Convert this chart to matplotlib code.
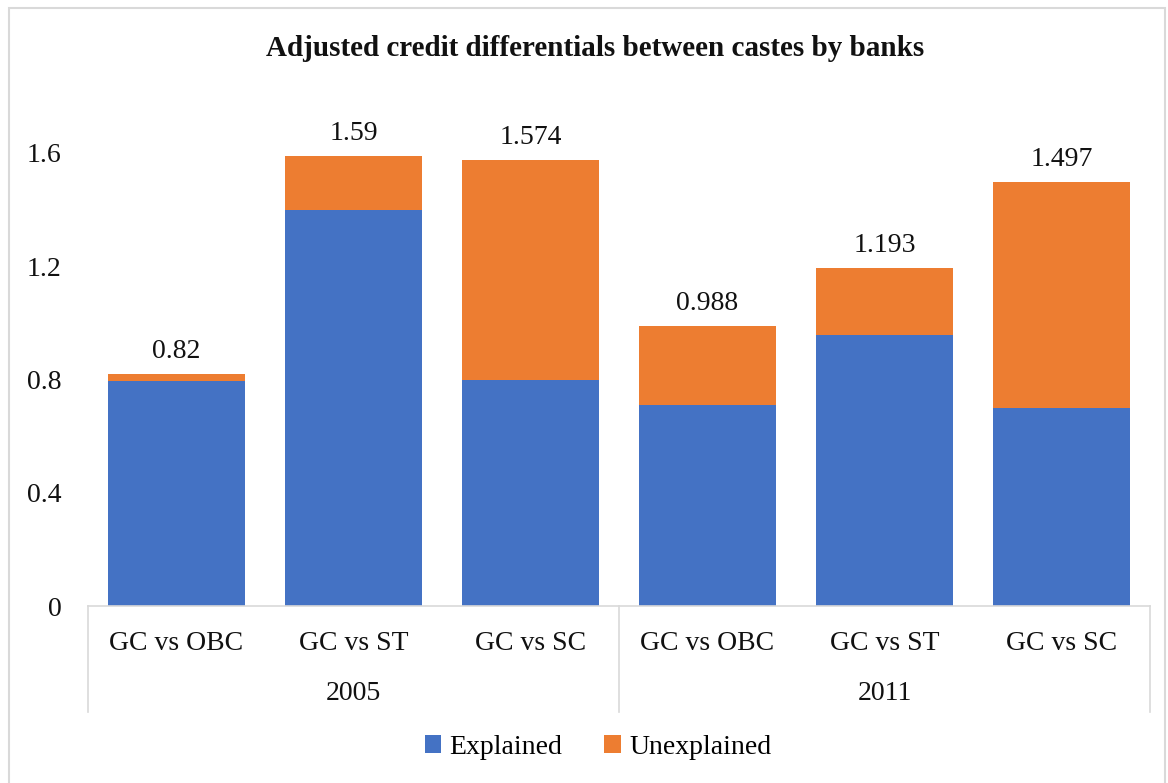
import matplotlib
matplotlib.use("Agg")
import matplotlib.pyplot as plt
from matplotlib.patches import Rectangle
from matplotlib.lines import Line2D

categories = ["GC vs OBC", "GC vs ST", "GC vs SC", "GC vs OBC", "GC vs ST", "GC vs SC"]
years = ["2005", "2011"]
totals = [0.82, 1.59, 1.574, 0.988, 1.193, 1.497]
explained = [0.795, 1.40, 0.80, 0.71, 0.957, 0.70]
unexplained = [t - e for t, e in zip(totals, explained)]
total_labels = ["0.82", "1.59", "1.574", "0.988", "1.193", "1.497"]
yticks = [0, 0.4, 0.8, 1.2, 1.6]
ytick_labels = ["0", "0.4", "0.8", "1.2", "1.6"]

blue = "#4472C4"
orange = "#ED7D31"
gray = "#D9D9D9"
txt = "#111111"
fs = 20

plt.rcParams["font.family"] = ["Liberation Serif", "DejaVu Serif"]

W, H = 1168, 783
fig = plt.figure(figsize=(W / 100, H / 100), dpi=100)
x0, x1 = 88, 1150
yb, yt = 606, 153
ax = fig.add_axes([x0 / W, 1 - yb / H, (x1 - x0) / W, (yb - yt) / H])

x = list(range(len(categories)))
ax.bar(x, explained, width=0.77, color=blue, label="Explained", zorder=2)
ax.bar(x, unexplained, width=0.77, bottom=explained, color=orange, label="Unexplained", zorder=2)
for xi, t, lab in zip(x, totals, total_labels):
    ax.text(xi, t + 0.035, lab, ha="center", va="bottom", fontsize=fs, color=txt)

ax.set_xlim(-0.5, len(categories) - 0.5)
ax.set_ylim(0, 1.6)
ax.set_yticks(yticks)
ax.set_yticklabels(ytick_labels, fontsize=fs, color=txt)
ax.tick_params(axis="y", length=0, pad=19)
ax.set_xticks([])
for s in ["top", "right", "left"]:
    ax.spines[s].set_visible(False)
ax.spines["bottom"].set_color(gray)
ax.spines["bottom"].set_linewidth(1.2)

def fx(px):
    return px / W

def fy(py):
    return 1 - py / H

catw = (x1 - x0) / len(categories)
for i, c in enumerate(categories):
    fig.text(fx(x0 + catw * (i + 0.5)), fy(644), c, ha="center", va="center", fontsize=fs, color=txt)
for g, yr in enumerate(years):
    fig.text(fx(x0 + catw * (3 * g + 1.5)), fy(694), yr, ha="center", va="center", fontsize=fs, color=txt)
for px in [x0, x0 + catw * 3, x1]:
    fig.add_artist(Line2D([fx(px), fx(px)], [fy(606), fy(712)], color=gray, lw=1.2))

fig.text(fx(595), fy(49), "Adjusted credit differentials between castes by banks",
         ha="center", va="center", fontsize=21, fontweight="bold", color=txt)

leg = fig.legend(loc="center", bbox_to_anchor=(fx(598), fy(747)), ncol=2, frameon=False,
                 fontsize=fs, handlelength=0.6, handleheight=0.6, handletextpad=0.3,
                 columnspacing=1.5)

fig.add_artist(Rectangle((fx(9), fy(790)), fx(1165 - 9), fy(8) - fy(790), fill=False,
                         edgecolor=gray, lw=1.5))

fig.savefig("out.png", dpi=100)
